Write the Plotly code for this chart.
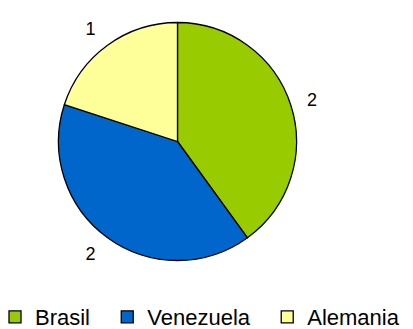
import plotly.graph_objects as go

categories = ["Brasil", "Venezuela", "Alemania"]
values = [2, 2, 1]
colors = ["#99CC00", "#0066CC", "#FFFF99"]

W, H = 413, 329
cx, cy, r = 177.5, 141.5, 119
r_lab = r + 12
FONT = "Liberation Sans, Arial"
# trailing non-breaking spaces widen the legend entries to match the reference spacing
pad_counts = [2, 2, 0]
legend_labels = [c + "\u00a0" * n for c, n in zip(categories, pad_counts)]


def dom(rad):
    return dict(x=[(cx - rad) / W, (cx + rad) / W],
                y=[1 - (cy + rad) / H, 1 - (cy - rad) / H])


fig = go.Figure()
fig.add_trace(go.Pie(
    labels=legend_labels,
    values=values,
    sort=False,
    direction="clockwise",
    rotation=0,
    marker=dict(colors=colors, line=dict(color="black", width=1.3)),
    textinfo="none",
    hovertemplate="%{label}: %{value}<extra></extra>",
    domain=dom(r),
))
# label ring: same data, invisible wedges, values drawn just outside the pie
fig.add_trace(go.Pie(
    labels=legend_labels,
    values=values,
    sort=False,
    direction="clockwise",
    rotation=0,
    marker=dict(colors=["rgba(0,0,0,0)"] * len(values), line=dict(width=0)),
    textinfo="value",
    textposition="outside",
    textfont=dict(family=FONT, size=18, color="black"),
    hoverinfo="skip",
    showlegend=False,
    domain=dom(r_lab),
))

fig.update_layout(
    width=W, height=H,
    margin=dict(l=0, r=0, t=0, b=0, autoexpand=False),
    paper_bgcolor="white",
    showlegend=True,
    legend=dict(
        orientation="h", x=-5 / W, y=-9 / H, xanchor="left", yanchor="bottom",
        font=dict(family=FONT, size=22, color="black"),
        itemclick=False,
    ),
)

fig.write_html("out.html")
